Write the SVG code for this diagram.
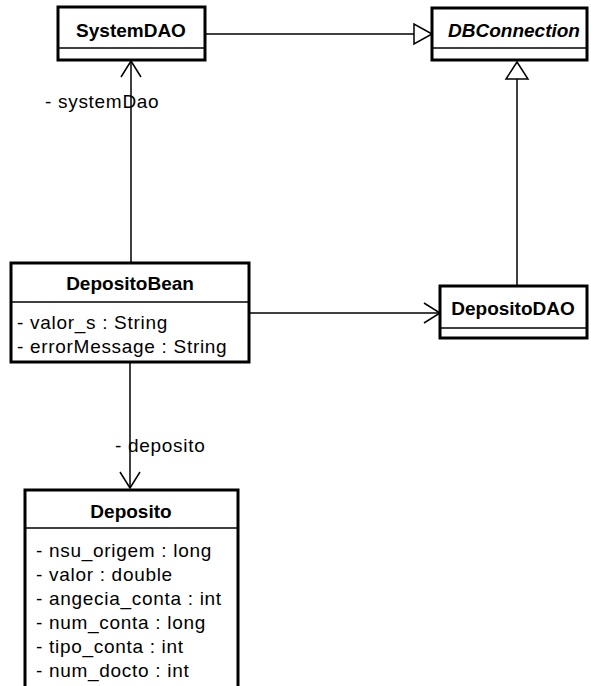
<svg xmlns="http://www.w3.org/2000/svg" width="591" height="686" viewBox="0 0 591 686">
  <style>
    .box { fill: #ffffff; stroke: #000000; stroke-width: 3; }
    .div { stroke: #000000; stroke-width: 1.5; }
    .title { font-family: "Liberation Sans", Arial, sans-serif; font-size: 19px; font-weight: bold; text-anchor: middle; fill: #000; }
    .abstract { font-style: italic; }
    .attr { font-family: "Liberation Sans", Arial, sans-serif; font-size: 19px; fill: #000; letter-spacing: 0.7px; }
    .edge { fill: none; stroke: #000000; stroke-width: 1.5; }
    .hollow { fill: #ffffff; stroke: #000000; stroke-width: 1.5; }
  </style>
  <rect width="591" height="686" fill="#ffffff"/>

  <g id="connectors">
    <!-- SystemDAO generalizes DBConnection -->
    <line class="edge" x1="205" y1="34" x2="414" y2="34"/>
    <polygon class="hollow" points="432,34 414,24 414,44"/>
    <!-- DepositoDAO generalizes DBConnection -->
    <line class="edge" x1="517" y1="285" x2="517" y2="79"/>
    <polygon class="hollow" points="517,62 506,79 528,79"/>
    <!-- DepositoBean navigates to SystemDAO -->
    <line class="edge" x1="131" y1="262" x2="131" y2="61"/>
    <polyline class="edge" points="121,77 131,61 141,77"/>
    <text class="attr" x="45" y="108">- systemDao</text>
    <!-- DepositoBean navigates to DepositoDAO -->
    <line class="edge" x1="250" y1="313" x2="440" y2="313"/>
    <polyline class="edge" points="424,303 440,313 424,323"/>
    <!-- DepositoBean navigates to Deposito -->
    <line class="edge" x1="130" y1="362" x2="130" y2="488"/>
    <polyline class="edge" points="120,472 130,488 140,472"/>
    <text class="attr" x="115" y="452">- deposito</text>
  </g>

  <g id="SystemDAO">
    <rect class="box" x="58" y="7" width="147" height="53"/>
    <line class="div" x1="58" y1="48" x2="205" y2="48"/>
    <text class="title" x="131" y="37">SystemDAO</text>
  </g>

  <g id="DBConnection">
    <rect class="box" x="432" y="8" width="155" height="52"/>
    <line class="div" x1="432" y1="48" x2="587" y2="48"/>
    <text class="title abstract" x="514" y="37">DBConnection</text>
  </g>

  <g id="DepositoBean">
    <rect class="box" x="11" y="263" width="238" height="99"/>
    <line class="div" x1="11" y1="302" x2="249" y2="302"/>
    <text class="title" x="130" y="290">DepositoBean</text>
    <text class="attr" x="17" y="329">- valor_s : String</text>
    <text class="attr" x="17" y="353">- errorMessage : String</text>
  </g>

  <g id="DepositoDAO">
    <rect class="box" x="440" y="286" width="147" height="52"/>
    <line class="div" x1="440" y1="328" x2="587" y2="328"/>
    <text class="title" x="513" y="315">DepositoDAO</text>
  </g>

  <g id="Deposito">
    <rect class="box" x="25" y="490" width="213" height="210"/>
    <line class="div" x1="25" y1="528" x2="238" y2="528"/>
    <text class="title" x="131" y="518">Deposito</text>
    <text class="attr" x="36" y="557">- nsu_origem : long</text>
    <text class="attr" x="36" y="581">- valor : double</text>
    <text class="attr" x="36" y="605">- angecia_conta : int</text>
    <text class="attr" x="36" y="629">- num_conta : long</text>
    <text class="attr" x="36" y="653">- tipo_conta : int</text>
    <text class="attr" x="36" y="677">- num_docto : int</text>
  </g>
</svg>
